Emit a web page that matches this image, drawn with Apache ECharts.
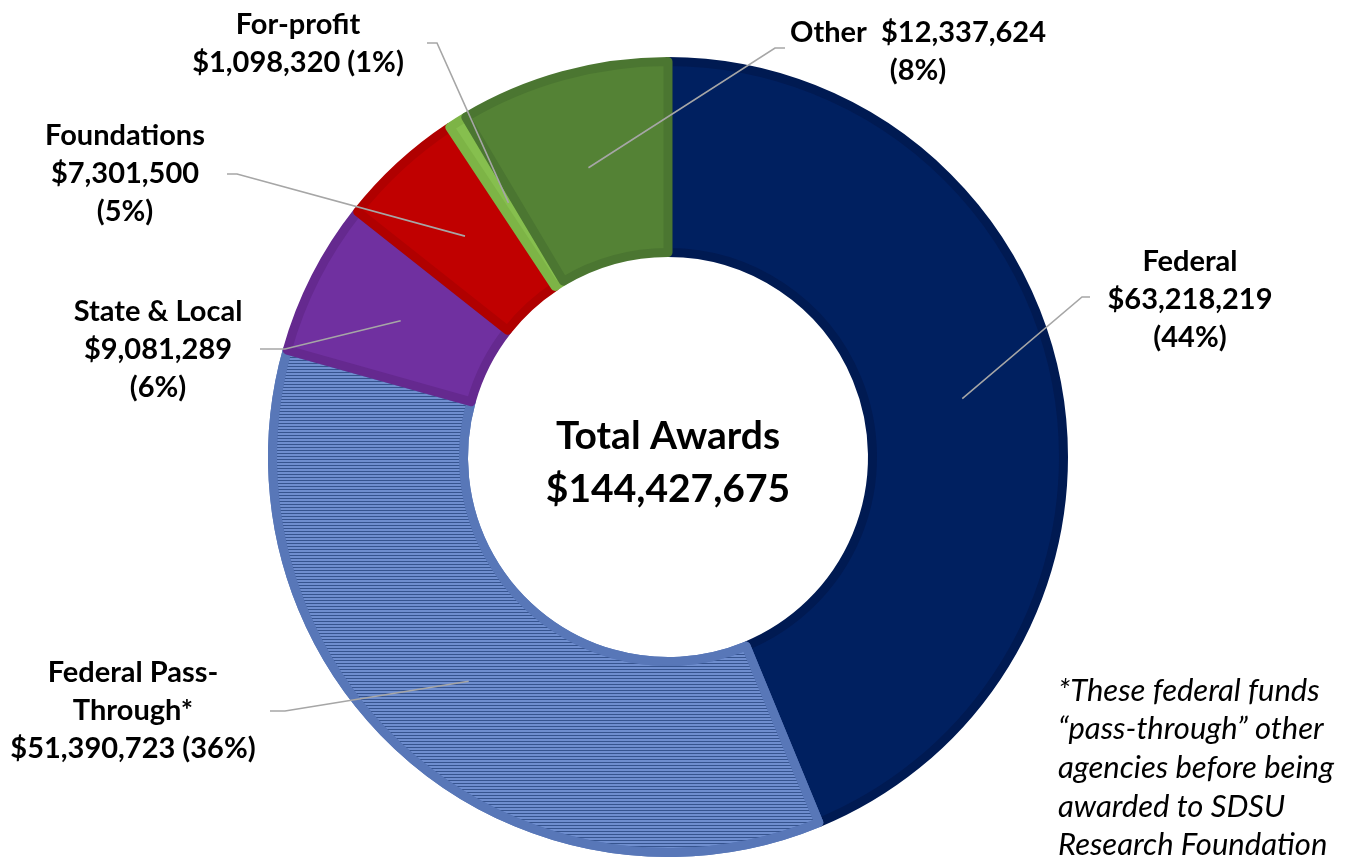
<!DOCTYPE html>
<html>
<head>
<meta charset="utf-8">
<script src="https://cdn.jsdelivr.net/npm/echarts@6/dist/echarts.min.js"></script>
<style>
  html, body { margin: 0; padding: 0; background: #fff; }
  #awards { width: 1357px; height: 867px; }
</style>
</head>
<body>
<div id="awards"></div>
<script>
// data
const categories = ['Federal', 'Federal Pass-Through*', 'State & Local', 'Foundations', 'For-profit', 'Other'];
const amounts = [63218219, 51390723, 9081289, 7301500, 1098320, 12337624];
const percents = ['44%', '36%', '6%', '5%', '1%', '8%'];
const labelTexts = [
  'Federal\n$63,218,219\n(44%)',
  'Federal Pass-\nThrough*\n$51,390,723 (36%)',
  'State & Local\n$9,081,289\n(6%)',
  'Foundations\n$7,301,500\n(5%)',
  'For-profit\n$1,098,320 (1%)',
  'Other  $12,337,624\n(8%)'
];
const totalText = '$144,427,675';

// styling
const fills = ['#002060', '#6f8ecf', '#7030A0', '#C00000', '#86BF4E', '#548235'];
const borders = ['#001a52', '#5877b8', '#65298f', '#b00000', '#7db446', '#4b7631'];
// label block centre and where the leader line meets it
const labelPos = [
  { x: 1190, y: 300, end: [1090, 297], bend: [1082, 297] },
  { x: 133, y: 711, end: [270, 711], bend: [285, 711] },
  { x: 158, y: 350, end: [260, 349], bend: [285, 349] },
  { x: 125, y: 174, end: [227, 174], bend: [237, 174] },
  { x: 298, y: 44, end: [427, 43], bend: [437, 43] },
  { x: 918, y: 52, end: [785, 48], bend: [775, 48] }
];

const center = [668, 457];
const midRadius = 300;

const total = amounts.reduce((a, b) => a + b, 0);
function midPoint(i) {
  let before = 0;
  for (let k = 0; k < i; k++) before += amounts[k];
  const frac = (before + amounts[i] / 2) / total;
  const a = frac * Math.PI * 2;
  return [center[0] + midRadius * Math.sin(a), center[1] - midRadius * Math.cos(a)];
}

const pieData = categories.map((name, i) => {
  const item = {
    name: name,
    value: amounts[i],
    itemStyle: {
      color: fills[i],
      borderColor: borders[i],
      borderWidth: 9
    }
  };
  if (i === 1) {
    // horizontal hatch on the pass-through slice
    item.itemStyle.decal = {
      symbol: 'rect',
      symbolSize: 1,
      color: '#36548f',
      dashArrayX: [1, 0],
      dashArrayY: [1, 2],
      rotation: 0
    };
  }
  return item;
});

// same slices, invisible, only to carry labels + leader lines above the ring
const labelData = categories.map((name, i) => ({ name: name, value: amounts[i] }));

const chart = echarts.init(document.getElementById('awards'));
chart.setOption({
  backgroundColor: '#fff',
  animation: false,
  graphic: [
    {
      type: 'text',
      style: {
        text: 'Total Awards\n' + totalText,
        x: center[0], y: center[1] + 6,
        align: 'center', verticalAlign: 'middle',
        font: 'bold 39px Lato, "Open Sans", sans-serif',
        lineHeight: 53,
        fill: '#000'
      }
    },
    {
      type: 'text',
      style: {
        text: '*These federal funds\n\u201cpass-through\u201d other\nagencies before being\nawarded to SDSU\nResearch Foundation',
        x: 1058, y: 768,
        align: 'left', verticalAlign: 'middle',
        font: 'italic 31px Lato, "Open Sans", sans-serif',
        lineHeight: 38.7,
        fill: '#000'
      }
    }
  ],
  series: [
    {
      type: 'pie',
      z: 2,
      center: center,
      radius: [204.5, 395.5],
      startAngle: 90,
      clockwise: true,
      data: pieData,
      label: { show: false },
      labelLine: { show: false },
      emphasis: { disabled: true }
    },
    {
      type: 'pie',
      z: 5,
      silent: true,
      center: center,
      radius: [204.5, 395.5],
      startAngle: 90,
      clockwise: true,
      avoidLabelOverlap: false,
      data: labelData,
      itemStyle: { color: 'rgba(0,0,0,0)', borderWidth: 0 },
      label: {
        show: true,
        position: 'outside',
        formatter: p => labelTexts[p.dataIndex],
        color: '#000',
        fontFamily: 'Lato, "Open Sans", sans-serif',
        fontWeight: 'bold',
        fontSize: 29,
        lineHeight: 38,
        align: 'center'
      },
      labelLine: {
        show: true,
        lineStyle: { color: '#a6a6a6', width: 1.6 }
      },
      labelLayout: function (params) {
        const i = params.dataIndex;
        const lp = labelPos[i];
        return {
          x: lp.x,
          y: lp.y,
          align: 'center',
          verticalAlign: 'middle',
          labelLinePoints: [midPoint(i), lp.bend, lp.end]
        };
      },
      emphasis: { disabled: true }
    }
  ]
});
</script>
</body>
</html>
